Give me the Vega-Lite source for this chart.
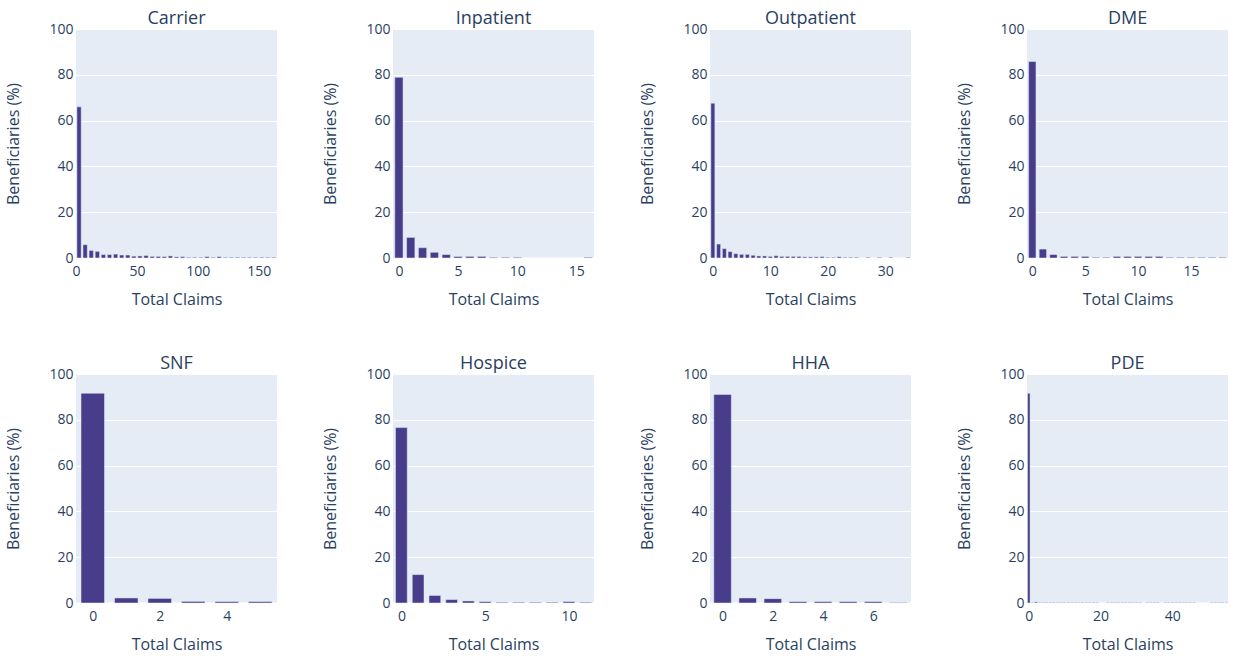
{
  "$schema": "https://vega.github.io/schema/vega-lite/v6.json",
  "background": "white",
  "padding": {"left": 5, "top": 10, "right": 5, "bottom": 5},
  "datasets": {
    "hist": [
      {"panel":"Carrier","lo":0,"hi":5,"pct":66},
      {"panel":"Carrier","lo":5,"hi":10,"pct":5.8},
      {"panel":"Carrier","lo":10,"hi":15,"pct":3.3},
      {"panel":"Carrier","lo":15,"hi":20,"pct":2.9},
      {"panel":"Carrier","lo":20,"hi":25,"pct":1.5},
      {"panel":"Carrier","lo":25,"hi":30,"pct":1.5},
      {"panel":"Carrier","lo":30,"hi":35,"pct":1.7},
      {"panel":"Carrier","lo":35,"hi":40,"pct":1.3},
      {"panel":"Carrier","lo":40,"hi":45,"pct":1.3},
      {"panel":"Carrier","lo":45,"hi":50,"pct":0.8},
      {"panel":"Carrier","lo":50,"hi":55,"pct":0.9},
      {"panel":"Carrier","lo":55,"hi":60,"pct":1.1},
      {"panel":"Carrier","lo":60,"hi":65,"pct":0.7},
      {"panel":"Carrier","lo":65,"hi":70,"pct":0.7},
      {"panel":"Carrier","lo":70,"hi":75,"pct":0.6},
      {"panel":"Carrier","lo":75,"hi":80,"pct":0.9},
      {"panel":"Carrier","lo":80,"hi":85,"pct":0.5},
      {"panel":"Carrier","lo":85,"hi":90,"pct":0.6},
      {"panel":"Carrier","lo":90,"hi":95,"pct":0.3},
      {"panel":"Carrier","lo":95,"hi":100,"pct":0.3},
      {"panel":"Carrier","lo":100,"hi":105,"pct":0.3},
      {"panel":"Carrier","lo":105,"hi":110,"pct":0.6},
      {"panel":"Carrier","lo":110,"hi":115,"pct":0.3},
      {"panel":"Carrier","lo":115,"hi":120,"pct":0.6},
      {"panel":"Carrier","lo":120,"hi":125,"pct":0.3},
      {"panel":"Carrier","lo":125,"hi":130,"pct":0.3},
      {"panel":"Carrier","lo":130,"hi":135,"pct":0.3},
      {"panel":"Carrier","lo":135,"hi":140,"pct":0.3},
      {"panel":"Carrier","lo":140,"hi":145,"pct":0.3},
      {"panel":"Carrier","lo":145,"hi":150,"pct":0.3},
      {"panel":"Carrier","lo":150,"hi":155,"pct":0.3},
      {"panel":"Carrier","lo":155,"hi":160,"pct":0.3},
      {"panel":"Carrier","lo":160,"hi":165,"pct":0.3},

      {"panel":"Inpatient","lo":-0.5,"hi":0.5,"pct":78.9},
      {"panel":"Inpatient","lo":0.5,"hi":1.5,"pct":9.0},
      {"panel":"Inpatient","lo":1.5,"hi":2.5,"pct":4.5},
      {"panel":"Inpatient","lo":2.5,"hi":3.5,"pct":2.5},
      {"panel":"Inpatient","lo":3.5,"hi":4.5,"pct":1.5},
      {"panel":"Inpatient","lo":4.5,"hi":5.5,"pct":0.7},
      {"panel":"Inpatient","lo":5.5,"hi":6.5,"pct":0.7},
      {"panel":"Inpatient","lo":6.5,"hi":7.5,"pct":0.7},
      {"panel":"Inpatient","lo":7.5,"hi":8.5,"pct":0.3},
      {"panel":"Inpatient","lo":8.5,"hi":9.5,"pct":0.3},
      {"panel":"Inpatient","lo":9.5,"hi":10.5,"pct":0.3},
      {"panel":"Inpatient","lo":15.5,"hi":16.5,"pct":0.3},

      {"panel":"Outpatient","lo":-0.5,"hi":0.5,"pct":67.6},
      {"panel":"Outpatient","lo":0.5,"hi":1.5,"pct":6.1},
      {"panel":"Outpatient","lo":1.5,"hi":2.5,"pct":4.1},
      {"panel":"Outpatient","lo":2.5,"hi":3.5,"pct":2.8},
      {"panel":"Outpatient","lo":3.5,"hi":4.5,"pct":1.9},
      {"panel":"Outpatient","lo":4.5,"hi":5.5,"pct":1.6},
      {"panel":"Outpatient","lo":5.5,"hi":6.5,"pct":1.6},
      {"panel":"Outpatient","lo":6.5,"hi":7.5,"pct":1.2},
      {"panel":"Outpatient","lo":7.5,"hi":8.5,"pct":0.9},
      {"panel":"Outpatient","lo":8.5,"hi":9.5,"pct":0.9},
      {"panel":"Outpatient","lo":9.5,"hi":10.5,"pct":0.7},
      {"panel":"Outpatient","lo":10.5,"hi":11.5,"pct":1.0},
      {"panel":"Outpatient","lo":11.5,"hi":12.5,"pct":0.7},
      {"panel":"Outpatient","lo":12.5,"hi":13.5,"pct":0.7},
      {"panel":"Outpatient","lo":13.5,"hi":14.5,"pct":0.7},
      {"panel":"Outpatient","lo":14.5,"hi":15.5,"pct":0.7},
      {"panel":"Outpatient","lo":15.5,"hi":16.5,"pct":0.5},
      {"panel":"Outpatient","lo":16.5,"hi":17.5,"pct":0.5},
      {"panel":"Outpatient","lo":17.5,"hi":18.5,"pct":0.5},
      {"panel":"Outpatient","lo":18.5,"hi":19.5,"pct":0.6},
      {"panel":"Outpatient","lo":19.5,"hi":20.5,"pct":0.3},
      {"panel":"Outpatient","lo":20.5,"hi":21.5,"pct":0.3},
      {"panel":"Outpatient","lo":21.5,"hi":22.5,"pct":0.6},
      {"panel":"Outpatient","lo":22.5,"hi":23.5,"pct":0.3},
      {"panel":"Outpatient","lo":23.5,"hi":24.5,"pct":0.3},
      {"panel":"Outpatient","lo":24.5,"hi":25.5,"pct":0.3},
      {"panel":"Outpatient","lo":26.5,"hi":27.5,"pct":0.3},
      {"panel":"Outpatient","lo":28.5,"hi":29.5,"pct":0.3},
      {"panel":"Outpatient","lo":30.5,"hi":31.5,"pct":0.3},
      {"panel":"Outpatient","lo":33.5,"hi":34.5,"pct":0.3},

      {"panel":"DME","lo":-0.5,"hi":0.5,"pct":85.8},
      {"panel":"DME","lo":0.5,"hi":1.5,"pct":3.9},
      {"panel":"DME","lo":1.5,"hi":2.5,"pct":1.5},
      {"panel":"DME","lo":2.5,"hi":3.5,"pct":0.7},
      {"panel":"DME","lo":3.5,"hi":4.5,"pct":0.7},
      {"panel":"DME","lo":4.5,"hi":5.5,"pct":0.7},
      {"panel":"DME","lo":5.5,"hi":6.5,"pct":0.3},
      {"panel":"DME","lo":6.5,"hi":7.5,"pct":0.3},
      {"panel":"DME","lo":7.5,"hi":8.5,"pct":0.7},
      {"panel":"DME","lo":8.5,"hi":9.5,"pct":0.7},
      {"panel":"DME","lo":9.5,"hi":10.5,"pct":0.7},
      {"panel":"DME","lo":10.5,"hi":11.5,"pct":0.7},
      {"panel":"DME","lo":11.5,"hi":12.5,"pct":0.7},
      {"panel":"DME","lo":12.5,"hi":13.5,"pct":0.3},
      {"panel":"DME","lo":13.5,"hi":14.5,"pct":0.3},
      {"panel":"DME","lo":14.5,"hi":15.5,"pct":0.3},
      {"panel":"DME","lo":15.5,"hi":16.5,"pct":0.3},
      {"panel":"DME","lo":16.5,"hi":17.5,"pct":0.3},
      {"panel":"DME","lo":17.5,"hi":18.5,"pct":0.3},

      {"panel":"SNF","lo":-0.5,"hi":0.5,"pct":91.6},
      {"panel":"SNF","lo":0.5,"hi":1.5,"pct":2.2},
      {"panel":"SNF","lo":1.5,"hi":2.5,"pct":2.0},
      {"panel":"SNF","lo":2.5,"hi":3.5,"pct":0.7},
      {"panel":"SNF","lo":3.5,"hi":4.5,"pct":0.6},
      {"panel":"SNF","lo":4.5,"hi":5.5,"pct":0.6},

      {"panel":"Hospice","lo":-0.5,"hi":0.5,"pct":76.6},
      {"panel":"Hospice","lo":0.5,"hi":1.5,"pct":12.4},
      {"panel":"Hospice","lo":1.5,"hi":2.5,"pct":3.3},
      {"panel":"Hospice","lo":2.5,"hi":3.5,"pct":1.5},
      {"panel":"Hospice","lo":3.5,"hi":4.5,"pct":0.9},
      {"panel":"Hospice","lo":4.5,"hi":5.5,"pct":0.6},
      {"panel":"Hospice","lo":5.5,"hi":6.5,"pct":0.3},
      {"panel":"Hospice","lo":6.5,"hi":7.5,"pct":0.3},
      {"panel":"Hospice","lo":7.5,"hi":8.5,"pct":0.3},
      {"panel":"Hospice","lo":8.5,"hi":9.5,"pct":0.3},
      {"panel":"Hospice","lo":9.5,"hi":10.5,"pct":0.6},
      {"panel":"Hospice","lo":10.5,"hi":11.5,"pct":0.3},

      {"panel":"HHA","lo":-0.5,"hi":0.5,"pct":91.1},
      {"panel":"HHA","lo":0.5,"hi":1.5,"pct":2.2},
      {"panel":"HHA","lo":1.5,"hi":2.5,"pct":1.9},
      {"panel":"HHA","lo":2.5,"hi":3.5,"pct":0.6},
      {"panel":"HHA","lo":3.5,"hi":4.5,"pct":0.6},
      {"panel":"HHA","lo":4.5,"hi":5.5,"pct":0.6},
      {"panel":"HHA","lo":5.5,"hi":6.5,"pct":0.6},
      {"panel":"HHA","lo":6.5,"hi":7.5,"pct":0.2},

      {"panel":"PDE","lo":-0.5,"hi":0.5,"pct":91.6},
      {"panel":"PDE","lo":0.5,"hi":1.5,"pct":0.2},
      {"panel":"PDE","lo":1.5,"hi":2.5,"pct":0.5},
      {"panel":"PDE","lo":2.5,"hi":3.5,"pct":0.2},
      {"panel":"PDE","lo":3.5,"hi":4.5,"pct":0.2},
      {"panel":"PDE","lo":4.5,"hi":5.5,"pct":0.2},
      {"panel":"PDE","lo":5.5,"hi":6.5,"pct":0.2},
      {"panel":"PDE","lo":6.5,"hi":7.5,"pct":0.2},
      {"panel":"PDE","lo":7.5,"hi":8.5,"pct":0.2},
      {"panel":"PDE","lo":8.5,"hi":9.5,"pct":0.2},
      {"panel":"PDE","lo":9.5,"hi":10.5,"pct":0.2},
      {"panel":"PDE","lo":10.5,"hi":11.5,"pct":0.2},
      {"panel":"PDE","lo":11.5,"hi":12.5,"pct":0.2},
      {"panel":"PDE","lo":12.5,"hi":13.5,"pct":0.2},
      {"panel":"PDE","lo":13.5,"hi":14.5,"pct":0.2},
      {"panel":"PDE","lo":14.5,"hi":15.5,"pct":0.2},
      {"panel":"PDE","lo":15.5,"hi":16.5,"pct":0.2},
      {"panel":"PDE","lo":16.5,"hi":17.5,"pct":0.2},
      {"panel":"PDE","lo":17.5,"hi":18.5,"pct":0.2},
      {"panel":"PDE","lo":18.5,"hi":19.5,"pct":0.2},
      {"panel":"PDE","lo":21.5,"hi":22.5,"pct":0.2},
      {"panel":"PDE","lo":22.5,"hi":23.5,"pct":0.2},
      {"panel":"PDE","lo":23.5,"hi":24.5,"pct":0.2},
      {"panel":"PDE","lo":24.5,"hi":25.5,"pct":0.2},
      {"panel":"PDE","lo":25.5,"hi":26.5,"pct":0.2},
      {"panel":"PDE","lo":26.5,"hi":27.5,"pct":0.2},
      {"panel":"PDE","lo":27.5,"hi":28.5,"pct":0.2},
      {"panel":"PDE","lo":28.5,"hi":29.5,"pct":0.2},
      {"panel":"PDE","lo":29.5,"hi":30.5,"pct":0.2},
      {"panel":"PDE","lo":30.5,"hi":31.5,"pct":0.2},
      {"panel":"PDE","lo":32.5,"hi":33.5,"pct":0.2},
      {"panel":"PDE","lo":33.5,"hi":34.5,"pct":0.2},
      {"panel":"PDE","lo":34.5,"hi":35.5,"pct":0.2},
      {"panel":"PDE","lo":35.5,"hi":36.5,"pct":0.2},
      {"panel":"PDE","lo":37.5,"hi":38.5,"pct":0.2},
      {"panel":"PDE","lo":38.5,"hi":39.5,"pct":0.2},
      {"panel":"PDE","lo":39.5,"hi":40.5,"pct":0.2},
      {"panel":"PDE","lo":40.5,"hi":41.5,"pct":0.2},
      {"panel":"PDE","lo":41.5,"hi":42.5,"pct":0.2},
      {"panel":"PDE","lo":42.5,"hi":43.5,"pct":0.2},
      {"panel":"PDE","lo":43.5,"hi":44.5,"pct":0.2},
      {"panel":"PDE","lo":44.5,"hi":45.5,"pct":0.2},
      {"panel":"PDE","lo":45.5,"hi":46.5,"pct":0.2},
      {"panel":"PDE","lo":50.5,"hi":51.5,"pct":0.2},
      {"panel":"PDE","lo":51.5,"hi":52.5,"pct":0.2},
      {"panel":"PDE","lo":52.5,"hi":53.5,"pct":0.2},
      {"panel":"PDE","lo":53.5,"hi":54.5,"pct":0.2},
      {"panel":"PDE","lo":54.5,"hi":55.5,"pct":0.2}
    ]
  },
  "data": {"name": "hist"},
  "columns": 4,
  "spacing": {"row": 116, "column": 116},
  "bounds": "flush",
  "concat": [
    {
      "title": "Carrier", "width": 201, "height": 229,
      "transform": [{"filter": "datum.panel === 'Carrier'"}],
      "mark": {"type": "bar", "color": "#483D8B", "stroke": "#E5ECF6", "strokeWidth": 0.5, "xOffset": 0.9, "x2Offset": -0.9},
      "encoding": {
        "x": {"field": "lo", "type": "quantitative", "scale": {"domain": [0, 165], "nice": false, "zero": false}, "axis": {"values": [0, 50, 100, 150], "title": "Total Claims"}},
        "x2": {"field": "hi"},
        "y": {"field": "pct", "type": "quantitative", "scale": {"domain": [0, 100], "nice": false}, "axis": {"values": [0, 20, 40, 60, 80, 100], "title": "Beneficiaries (%)"}},
        "y2": {"datum": 0}
      }
    },
    {
      "title": "Inpatient", "width": 201, "height": 229,
      "transform": [{"filter": "datum.panel === 'Inpatient'"}],
      "mark": {"type": "bar", "color": "#483D8B", "stroke": "#E5ECF6", "strokeWidth": 0.5, "xOffset": 1.77, "x2Offset": -1.77},
      "encoding": {
        "x": {"field": "lo", "type": "quantitative", "scale": {"domain": [-0.5, 16.5], "nice": false, "zero": false}, "axis": {"values": [0, 5, 10, 15], "title": "Total Claims"}},
        "x2": {"field": "hi"},
        "y": {"field": "pct", "type": "quantitative", "scale": {"domain": [0, 100], "nice": false}, "axis": {"values": [0, 20, 40, 60, 80, 100], "title": "Beneficiaries (%)"}},
        "y2": {"datum": 0}
      }
    },
    {
      "title": "Outpatient", "width": 201, "height": 229,
      "transform": [{"filter": "datum.panel === 'Outpatient'"}],
      "mark": {"type": "bar", "color": "#483D8B", "stroke": "#E5ECF6", "strokeWidth": 0.5, "xOffset": 0.86, "x2Offset": -0.86},
      "encoding": {
        "x": {"field": "lo", "type": "quantitative", "scale": {"domain": [-0.5, 34.5], "nice": false, "zero": false}, "axis": {"values": [0, 10, 20, 30], "title": "Total Claims"}},
        "x2": {"field": "hi"},
        "y": {"field": "pct", "type": "quantitative", "scale": {"domain": [0, 100], "nice": false}, "axis": {"values": [0, 20, 40, 60, 80, 100], "title": "Beneficiaries (%)"}},
        "y2": {"datum": 0}
      }
    },
    {
      "title": "DME", "width": 201, "height": 229,
      "transform": [{"filter": "datum.panel === 'DME'"}],
      "mark": {"type": "bar", "color": "#483D8B", "stroke": "#E5ECF6", "strokeWidth": 0.5, "xOffset": 1.59, "x2Offset": -1.59},
      "encoding": {
        "x": {"field": "lo", "type": "quantitative", "scale": {"domain": [-0.5, 18.5], "nice": false, "zero": false}, "axis": {"values": [0, 5, 10, 15], "title": "Total Claims"}},
        "x2": {"field": "hi"},
        "y": {"field": "pct", "type": "quantitative", "scale": {"domain": [0, 100], "nice": false}, "axis": {"values": [0, 20, 40, 60, 80, 100], "title": "Beneficiaries (%)"}},
        "y2": {"datum": 0}
      }
    },
    {
      "title": "SNF", "width": 201, "height": 229,
      "transform": [{"filter": "datum.panel === 'SNF'"}],
      "mark": {"type": "bar", "color": "#483D8B", "stroke": "#E5ECF6", "strokeWidth": 0.5, "xOffset": 5, "x2Offset": -5},
      "encoding": {
        "x": {"field": "lo", "type": "quantitative", "scale": {"domain": [-0.5, 5.5], "nice": false, "zero": false}, "axis": {"values": [0, 2, 4], "title": "Total Claims"}},
        "x2": {"field": "hi"},
        "y": {"field": "pct", "type": "quantitative", "scale": {"domain": [0, 100], "nice": false}, "axis": {"values": [0, 20, 40, 60, 80, 100], "title": "Beneficiaries (%)"}},
        "y2": {"datum": 0}
      }
    },
    {
      "title": "Hospice", "width": 201, "height": 229,
      "transform": [{"filter": "datum.panel === 'Hospice'"}],
      "mark": {"type": "bar", "color": "#483D8B", "stroke": "#E5ECF6", "strokeWidth": 0.5, "xOffset": 2.5, "x2Offset": -2.5},
      "encoding": {
        "x": {"field": "lo", "type": "quantitative", "scale": {"domain": [-0.5, 11.5], "nice": false, "zero": false}, "axis": {"values": [0, 5, 10], "title": "Total Claims"}},
        "x2": {"field": "hi"},
        "y": {"field": "pct", "type": "quantitative", "scale": {"domain": [0, 100], "nice": false}, "axis": {"values": [0, 20, 40, 60, 80, 100], "title": "Beneficiaries (%)"}},
        "y2": {"datum": 0}
      }
    },
    {
      "title": "HHA", "width": 201, "height": 229,
      "transform": [{"filter": "datum.panel === 'HHA'"}],
      "mark": {"type": "bar", "color": "#483D8B", "stroke": "#E5ECF6", "strokeWidth": 0.5, "xOffset": 3.8, "x2Offset": -3.8},
      "encoding": {
        "x": {"field": "lo", "type": "quantitative", "scale": {"domain": [-0.5, 7.5], "nice": false, "zero": false}, "axis": {"values": [0, 2, 4, 6], "title": "Total Claims"}},
        "x2": {"field": "hi"},
        "y": {"field": "pct", "type": "quantitative", "scale": {"domain": [0, 100], "nice": false}, "axis": {"values": [0, 20, 40, 60, 80, 100], "title": "Beneficiaries (%)"}},
        "y2": {"datum": 0}
      }
    },
    {
      "title": "PDE", "width": 201, "height": 229,
      "transform": [{"filter": "datum.panel === 'PDE'"}],
      "mark": {"type": "bar", "color": "#483D8B", "stroke": "#E5ECF6", "strokeWidth": 0.5, "xOffset": 0.54, "x2Offset": -0.54},
      "encoding": {
        "x": {"field": "lo", "type": "quantitative", "scale": {"domain": [-0.5, 55.5], "nice": false, "zero": false}, "axis": {"values": [0, 20, 40], "title": "Total Claims"}},
        "x2": {"field": "hi"},
        "y": {"field": "pct", "type": "quantitative", "scale": {"domain": [0, 100], "nice": false}, "axis": {"values": [0, 20, 40, 60, 80, 100], "title": "Beneficiaries (%)"}},
        "y2": {"datum": 0}
      }
    }
  ],
  "config": {
    "font": "Open Sans",
    "view": {"fill": "#E5ECF6", "stroke": null},
    "axis": {
      "domain": false, "ticks": false, "labelFlush": false,
      "labelFont": "Open Sans", "labelFontSize": 14, "labelColor": "#2a3f5f",
      "titleFont": "Open Sans", "titleFontSize": 16, "titleColor": "#2a3f5f", "titleFontWeight": "normal",
      "gridColor": "white"
    },
    "axisX": {"grid": false, "labelPadding": 6, "titlePadding": 13},
    "axisY": {"gridWidth": {"condition": {"test": "datum.value === 0", "value": 2}, "value": 1}, "labelPadding": 3, "titlePadding": 27},
    "title": {"font": "Open Sans", "fontSize": 18, "fontWeight": "normal", "color": "#2a3f5f", "offset": -6, "frame": "group", "anchor": "middle"}
  }
}
